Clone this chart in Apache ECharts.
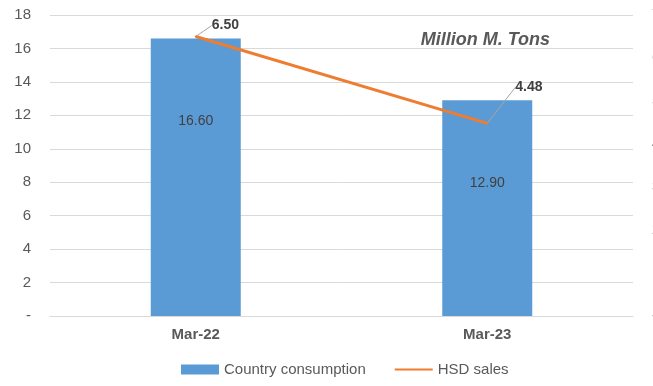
<!DOCTYPE html>
<html>
<head>
<meta charset="utf-8">
<script src="https://cdn.jsdelivr.net/npm/echarts@6/dist/echarts.min.js"></script>
<style>
  html, body { margin: 0; padding: 0; background: #fff; }
  #chart { width: 653px; height: 386px; }
</style>
</head>
<body>
<div id="chart"></div>
<script>
const categories = ['Mar-22', 'Mar-23'];
const countryConsumption = [16.60, 12.90];
const hsdSales = [6.50, 4.48];
const lineLabelShift = [[10, -11], [22, -36]];

const chart = echarts.init(document.getElementById('chart'));
const gray = '#595959';
const fontFamily = '"Liberation Sans", Arial, sans-serif';

const option = {
  animation: false,
  textStyle: { fontFamily },
  title: {
    text: 'Million M. Tons',
    right: 98,
    top: 26,
    textStyle: { color: gray, fontSize: 18, fontStyle: 'italic', fontWeight: 'bold', fontFamily }
  },
  grid: { left: 50, right: 20, top: 15, bottom: 70, outerBoundsMode: 'none' },
  legend: {
    bottom: 4,
    left: 176,
    itemGap: 28,
    itemWidth: 38,
    itemHeight: 10,
    textStyle: { color: gray, fontSize: 15, fontFamily },
    data: [
      { name: 'Country consumption', icon: 'rect' },
      { name: 'HSD sales', itemStyle: { opacity: 0 } }
    ]
  },
  xAxis: {
    type: 'category',
    data: categories,
    axisLine: { lineStyle: { color: '#d9d9d9' } },
    axisTick: { lineStyle: { color: '#d9d9d9' }, length: 5 },
    axisLabel: { color: gray, fontSize: 15, fontWeight: 'bold', margin: 11 }
  },
  yAxis: [
    {
      type: 'value',
      min: 0, max: 18, interval: 2,
      axisLine: { show: false },
      axisTick: { show: false },
      splitLine: { lineStyle: { color: '#d9d9d9' } },
      axisLabel: {
        color: gray, fontSize: 15, margin: 19,
        formatter: v => v === 0 ? '-' : v
      }
    },
    {
      type: 'value',
      min: 0, max: 7, interval: 1,
      position: 'right',
      axisLine: { show: false },
      axisTick: { show: false },
      splitLine: { show: false },
      axisLabel: {
        color: gray, fontSize: 15, margin: 19,
        formatter: v => v === 0 ? '-' : v
      }
    }
  ],
  series: [
    {
      name: 'Country consumption',
      type: 'bar',
      data: countryConsumption,
      barWidth: 90,
      itemStyle: { color: '#5b9bd5' },
      label: {
        show: true,
        position: 'insideTop',
        distance: 76,
        color: '#404040',
        fontSize: 14,
        formatter: p => p.value.toFixed(2)
      }
    },
    {
      name: 'HSD sales',
      type: 'line',
      yAxisIndex: 1,
      data: hsdSales,
      symbol: 'circle',
      symbolSize: 2,
      itemStyle: { color: '#ed7d31' },
      lineStyle: { color: '#ed7d31', width: 3 },
      label: {
        show: true,
        position: 'right',
        color: '#404040',
        fontSize: 14,
        fontWeight: 'bold',
        formatter: p => p.value.toFixed(2)
      },
      labelLine: { show: true, lineStyle: { color: '#a6a6a6', width: 1 } },
      labelLayout: p => ({ dx: lineLabelShift[p.dataIndex][0], dy: lineLabelShift[p.dataIndex][1] })
    }
  ]
};

chart.setOption(option);
</script>
</body>
</html>
